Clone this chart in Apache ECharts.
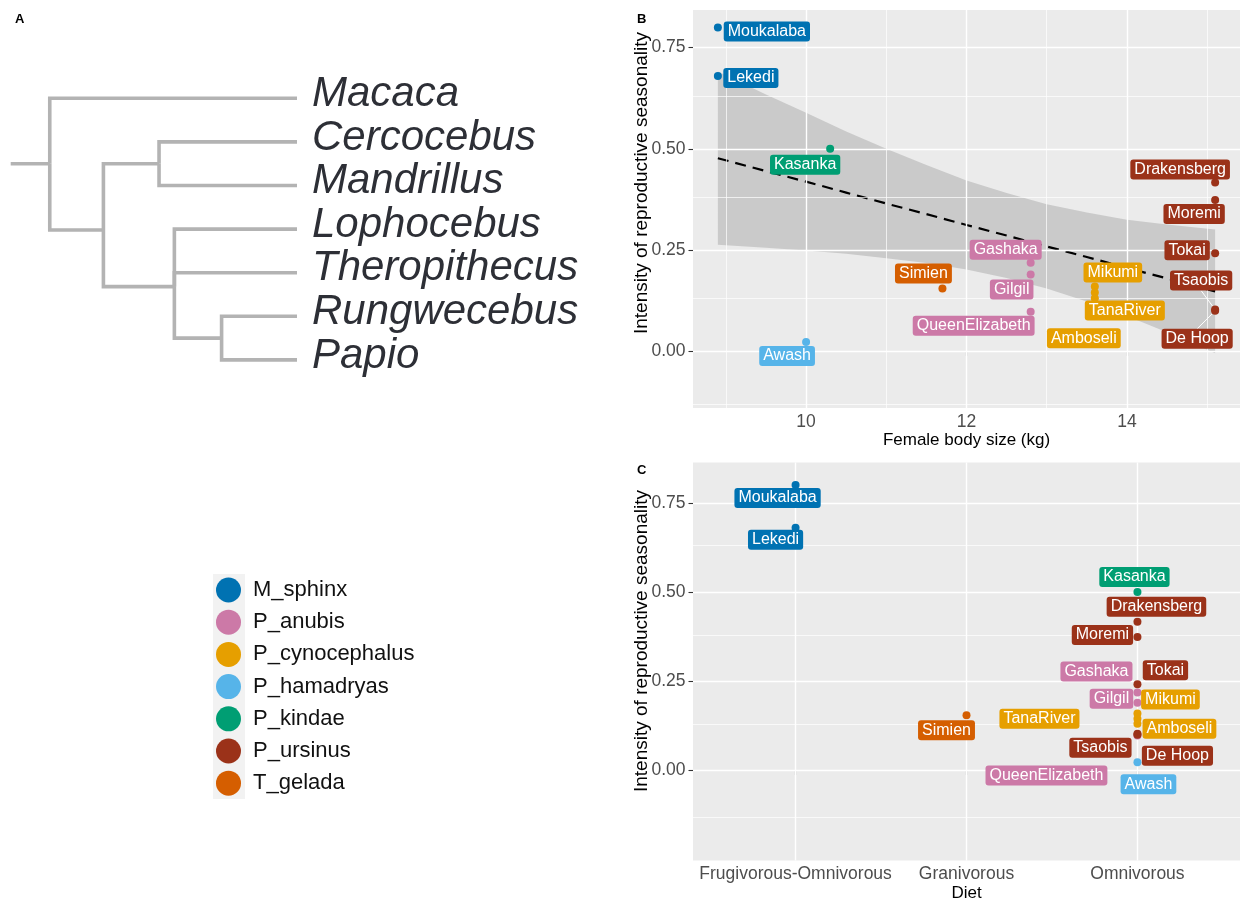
<!DOCTYPE html>
<html>
<head>
<meta charset="utf-8">
<script src="https://cdn.jsdelivr.net/npm/echarts@6/dist/echarts.min.js"></script>
<style>
  html, body { margin: 0; padding: 0; background: #ffffff; }
  #chart { width: 1242px; height: 904px; }
</style>
</head>
<body>
<div id="chart"></div>
<script>
// ---- study sites ----
const sites = ['Moukalaba', 'Lekedi', 'Kasanka', 'Drakensberg', 'Moremi', 'Tokai', 'Tsaobis', 'De Hoop',
  'Gashaka', 'Gilgil', 'QueenElizabeth', 'Simien', 'Awash', 'Mikumi', 'TanaRiver', 'Amboseli'];
const species = ['M_sphinx', 'M_sphinx', 'P_kindae', 'P_ursinus', 'P_ursinus', 'P_ursinus', 'P_ursinus', 'P_ursinus',
  'P_anubis', 'P_anubis', 'P_anubis', 'T_gelada', 'P_hamadryas', 'P_cynocephalus', 'P_cynocephalus', 'P_cynocephalus'];
const bodySize = [8.9, 8.9, 10.3, 15.1, 15.1, 15.1, 15.1, 15.1, 12.8, 12.8, 12.8, 11.7, 10.0, 13.6, 13.6, 13.6];
const seasonality = [0.80, 0.68, 0.50, 0.417, 0.374, 0.242, 0.103, 0.10, 0.219, 0.19, 0.098, 0.155, 0.023, 0.16, 0.145, 0.131];
const diet = ['Frugivorous-Omnivorous', 'Frugivorous-Omnivorous', 'Omnivorous', 'Omnivorous', 'Omnivorous', 'Omnivorous',
  'Omnivorous', 'Omnivorous', 'Omnivorous', 'Omnivorous', 'Omnivorous', 'Granivorous', 'Omnivorous', 'Omnivorous',
  'Omnivorous', 'Omnivorous'];
const dietCategories = ['Frugivorous-Omnivorous', 'Granivorous', 'Omnivorous'];

const speciesNames = ['M_sphinx', 'P_anubis', 'P_cynocephalus', 'P_hamadryas', 'P_kindae', 'P_ursinus', 'T_gelada'];
const speciesColors = ['#0072B2', '#CC79A7', '#E69F00', '#56B4E9', '#009E73', '#9B3219', '#D55E00'];

// ---- linear fit of seasonality on body size, with its confidence band ----
const fitX = [8.9, 9.5, 10, 10.5, 11, 11.5, 12, 12.5, 13, 13.5, 14, 14.5, 15.1];
const fitY = [0.477, 0.445, 0.419, 0.392, 0.365, 0.339, 0.312, 0.286, 0.259, 0.233, 0.206, 0.180, 0.148];
const fitUpper = [0.691, 0.634, 0.589, 0.543, 0.500, 0.460, 0.422, 0.391, 0.363, 0.343, 0.325, 0.313, 0.301];
const fitLower = [0.263, 0.256, 0.249, 0.241, 0.230, 0.218, 0.202, 0.181, 0.155, 0.123, 0.087, 0.047, -0.005];

// ---- axis breaks ----
const yTicks = [0, 0.25, 0.5, 0.75];
const yMinor = [-0.125, 0.125, 0.375, 0.625];
const xTicksB = [10, 12, 14];
const xMinorB = [9, 11, 13, 15];
const xTicksC = [1, 2, 3];

// ---- phylogeny (rectangular cladogram) ----
const treeNodeIds = ['root', 'african', 'cercoMand', 'papioClade', 'rungPapio',
  'Macaca', 'Cercocebus', 'Mandrillus', 'Lophocebus', 'Theropithecus', 'Rungwecebus', 'Papio'];
const treeParents = [null, 'root', 'african', 'african', 'papioClade',
  'root', 'cercoMand', 'cercoMand', 'papioClade', 'papioClade', 'rungPapio', 'rungPapio'];
const treeDepths = [0, 2.17, 4.42, 5.04, 6.95, 10, 10, 10, 10, 10, 10, 10];
const treeRows = [1.5, 3.02, 1.5, 4.32, 5.5, 0, 1, 2, 3, 4, 5, 6];
const rootStemDepth = -1.58;
const treeTips = ['Macaca', 'Cercocebus', 'Mandrillus', 'Lophocebus', 'Theropithecus', 'Rungwecebus', 'Papio'];

// ---- label placement (pixel offsets of each site label from its point) ----
const labelOffsetB = {
  'Moukalaba': [49, 4], 'Lekedi': [33, 2], 'Kasanka': [-25, 16], 'Drakensberg': [-35, -13],
  'Moremi': [-21, 14], 'Tokai': [-28, -3], 'Tsaobis': [-14, -29], 'De Hoop': [-18, 28],
  'Gashaka': [-25, -13], 'Gilgil': [-19, 15], 'QueenElizabeth': [-57, 14], 'Simien': [-19, -15],
  'Awash': [-19, 14], 'Mikumi': [18, -14], 'TanaRiver': [30, 18], 'Amboseli': [-11, 40]
};
const labelOffsetC = {
  'Moukalaba': [-18, 13], 'Lekedi': [-20, 12], 'Kasanka': [-3, -15], 'Drakensberg': [19, -15],
  'Moremi': [-35, -2], 'Tokai': [28, -14], 'Gashaka': [-41, -21], 'Gilgil': [-26, -4],
  'Mikumi': [33, -14], 'TanaRiver': [-98, 0], 'Amboseli': [42, 5], 'Tsaobis': [-37, 14],
  'De Hoop': [40, 21], 'QueenElizabeth': [-91, 40], 'Awash': [11, 22], 'Simien': [-20, 15]
};
const segmentSitesB = ['Tsaobis', 'De Hoop'];

const FONT = '"Liberation Sans", Arial, Helvetica, sans-serif';
const chart = echarts.init(document.getElementById('chart'));

function gridLineData(xMajor, xMinor, yMajor, yMinorVals) {
  const d = [];
  yMinorVals.forEach(v => d.push({ yAxis: v, lineStyle: { width: 0.7 } }));
  xMinor.forEach(v => d.push({ xAxis: v, lineStyle: { width: 0.7 } }));
  yMajor.forEach(v => d.push({ yAxis: v, lineStyle: { width: 1.4 } }));
  xMajor.forEach(v => d.push({ xAxis: v, lineStyle: { width: 1.4 } }));
  return d;
}

function gridSeries(panel, data) {
  return {
    type: 'scatter', xAxisIndex: panel, yAxisIndex: panel, data: [], silent: true, z: 1,
    markLine: {
      silent: true, animation: false, symbol: ['none', 'none'], label: { show: false },
      lineStyle: { color: '#ffffff', type: 'solid' }, emphasis: { disabled: true },
      data: data
    }
  };
}

function siteSeries(panel) {
  const offsets = panel === 0 ? labelOffsetB : labelOffsetC;
  const segs = panel === 0 ? segmentSitesB : [];
  return speciesNames.map((sp, k) => {
    const idx = sites.map((_, i) => i).filter(i => species[i] === sp);
    return {
      type: 'scatter', name: sp, xAxisIndex: panel, yAxisIndex: panel, z: 5,
      symbol: 'circle', symbolSize: 8, silent: true,
      itemStyle: { color: speciesColors[k], opacity: 1 },
      emphasis: { disabled: true },
      data: idx.map(i => ({
        name: sites[i],
        value: [panel === 0 ? bodySize[i] : dietCategories.indexOf(diet[i]) + 1, seasonality[i]],
        labelLine: { show: segs.includes(sites[i]) }
      })),
      label: {
        show: true, position: 'inside', formatter: '{b}', color: '#ffffff',
        fontFamily: FONT, fontSize: 16, lineHeight: 16,
        backgroundColor: speciesColors[k], borderRadius: 3, padding: [2, 4, 2, 4]
      },
      labelLine: { show: false, lineStyle: { color: '#ffffff', width: 1 } },
      labelLayout: p => {
        const o = offsets[p.text] || [0, 0];
        return { dx: o[0], dy: o[1] };
      }
    };
  });
}

// tree edges: [parentDepth, parentRow, depth, row]
const treeEdges = [[rootStemDepth, treeRows[0], treeDepths[0], treeRows[0]]];
treeNodeIds.forEach((id, i) => {
  const p = treeParents[i];
  if (p === null) return;
  const j = treeNodeIds.indexOf(p);
  treeEdges.push([treeDepths[j], treeRows[j], treeDepths[i], treeRows[i]]);
});
const tipData = treeTips.map(name => {
  const i = treeNodeIds.indexOf(name);
  return [treeDepths[i], treeRows[i], name];
});

const tickLabelStyle = { fontFamily: FONT, fontSize: 17.5, color: '#4D4D4D' };
const tickStyle = { show: true, length: 4.5, lineStyle: { color: '#333333', width: 1.1 } };

const option = {
  animation: false,
  textStyle: { fontFamily: FONT },
  grid: [
    { left: 693, top: 10, width: 547, height: 398, show: true, backgroundColor: '#EBEBEB', borderWidth: 0 },
    { left: 693, top: 462.5, width: 547, height: 398, show: true, backgroundColor: '#EBEBEB', borderWidth: 0 },
    { left: 10.7, top: 98.3, width: 286.3, height: 261.6, show: false }
  ],
  xAxis: [
    {
      gridIndex: 0, type: 'value', min: 8.59, max: 15.41,
      axisLine: { show: false }, splitLine: { show: false },
      axisTick: Object.assign({ customValues: xTicksB }, tickStyle),
      axisLabel: Object.assign({ customValues: xTicksB, margin: 5, formatter: v => String(v) }, tickLabelStyle),
      name: 'Female body size (kg)', nameLocation: 'middle', nameGap: 24,
      nameTextStyle: { fontFamily: FONT, fontSize: 17, color: '#000000' }
    },
    {
      gridIndex: 1, type: 'value', min: 0.4, max: 3.6,
      axisLine: { show: false }, splitLine: { show: false },
      axisTick: Object.assign({ customValues: xTicksC }, tickStyle),
      axisLabel: Object.assign({ customValues: xTicksC, margin: 5,
        formatter: v => dietCategories[Math.round(v) - 1] }, tickLabelStyle),
      name: 'Diet', nameLocation: 'middle', nameGap: 24,
      nameTextStyle: { fontFamily: FONT, fontSize: 17, color: '#000000' }
    },
    { gridIndex: 2, type: 'value', min: rootStemDepth, max: 10, show: false }
  ],
  yAxis: [
    {
      gridIndex: 0, type: 'value', min: -0.14, max: 0.843,
      axisLine: { show: false }, splitLine: { show: false },
      axisTick: Object.assign({ customValues: yTicks }, tickStyle),
      axisLabel: Object.assign({ customValues: yTicks, margin: 7.5, formatter: v => v.toFixed(2) }, tickLabelStyle)
    },
    {
      gridIndex: 1, type: 'value', min: -0.252, max: 0.863,
      axisLine: { show: false }, splitLine: { show: false },
      axisTick: Object.assign({ customValues: yTicks }, tickStyle),
      axisLabel: Object.assign({ customValues: yTicks, margin: 7.5, formatter: v => v.toFixed(2) }, tickLabelStyle)
    },
    { gridIndex: 2, type: 'value', min: 0, max: 6, inverse: true, show: false }
  ],
  legend: {
    orient: 'vertical', left: 216, top: 577.5, padding: 0,
    itemWidth: 25, itemHeight: 25, itemGap: 7.2,
    icon: 'circle', selectedMode: false, data: speciesNames,
    textStyle: { fontFamily: FONT, fontSize: 22, color: '#111111', padding: [0, 0, 0, 7] }
  },
  graphic: [
    { type: 'rect', z: 0, shape: { x: 213, y: 574, width: 32, height: 225 }, style: { fill: '#F2F2F2' } },
    { type: 'text', x: 15, y: 13, style: { text: 'A', font: 'bold 13px ' + FONT, fill: '#000000' } },
    { type: 'text', x: 637, y: 13, style: { text: 'B', font: 'bold 13px ' + FONT, fill: '#000000' } },
    { type: 'text', x: 637, y: 463.5, style: { text: 'C', font: 'bold 13px ' + FONT, fill: '#000000' } },
    {
      type: 'text', x: 641.5, y: 183, rotation: Math.PI / 2,
      style: { text: 'Intensity of reproductive seasonality', font: '19px ' + FONT, fill: '#000000',
        align: 'center', verticalAlign: 'middle', textAlign: 'center', textVerticalAlign: 'middle' }
    },
    {
      type: 'text', x: 641.5, y: 641, rotation: Math.PI / 2,
      style: { text: 'Intensity of reproductive seasonality', font: '19px ' + FONT, fill: '#000000',
        align: 'center', verticalAlign: 'middle', textAlign: 'center', textVerticalAlign: 'middle' }
    }
  ],
  series: [
    gridSeries(0, gridLineData(xTicksB, xMinorB, yTicks, yMinor)),
    gridSeries(1, gridLineData(xTicksC, [], yTicks, yMinor)),
    {
      type: 'custom', xAxisIndex: 0, yAxisIndex: 0, z: 2, silent: true, clip: false,
      data: [[fitX[0], fitY[0]]],
      renderItem: (params, api) => {
        const pts = fitX.map((x, i) => api.coord([x, fitUpper[i]]));
        for (let i = fitX.length - 1; i >= 0; i--) pts.push(api.coord([fitX[i], fitLower[i]]));
        return { type: 'polygon', shape: { points: pts }, style: { fill: 'rgba(153,153,153,0.4)' } };
      }
    },
    {
      type: 'line', xAxisIndex: 0, yAxisIndex: 0, z: 3, silent: true,
      symbol: 'none', showSymbol: false,
      data: fitX.map((x, i) => [x, fitY[i]]),
      lineStyle: { color: '#000000', width: 2.2, type: [11, 7] }
    },
    ...siteSeries(0),
    ...siteSeries(1),
    {
      type: 'custom', xAxisIndex: 2, yAxisIndex: 2, silent: true, clip: false, z: 2,
      data: treeEdges,
      renderItem: (params, api) => {
        const a = api.coord([api.value(0), api.value(1)]);
        const b = api.coord([api.value(0), api.value(3)]);
        const c = api.coord([api.value(2), api.value(3)]);
        return {
          type: 'polyline', shape: { points: [a, b, c] },
          style: { stroke: '#B3B3B3', lineWidth: 3.6, fill: null, lineJoin: 'miter', lineCap: 'butt' }
        };
      }
    },
    {
      type: 'custom', xAxisIndex: 2, yAxisIndex: 2, silent: true, clip: false, z: 2,
      data: tipData,
      renderItem: (params, api) => {
        const p = api.coord([api.value(0), api.value(1)]);
        return {
          type: 'text', x: p[0] + 15, y: p[1] - 4,
          style: { text: tipData[params.dataIndex][2], font: 'italic 42px ' + FONT, fill: '#2d2f36',
            align: 'left', verticalAlign: 'middle', textAlign: 'left', textVerticalAlign: 'middle' }
        };
      }
    }
  ]
};

chart.setOption(option);
</script>
</body>
</html>
